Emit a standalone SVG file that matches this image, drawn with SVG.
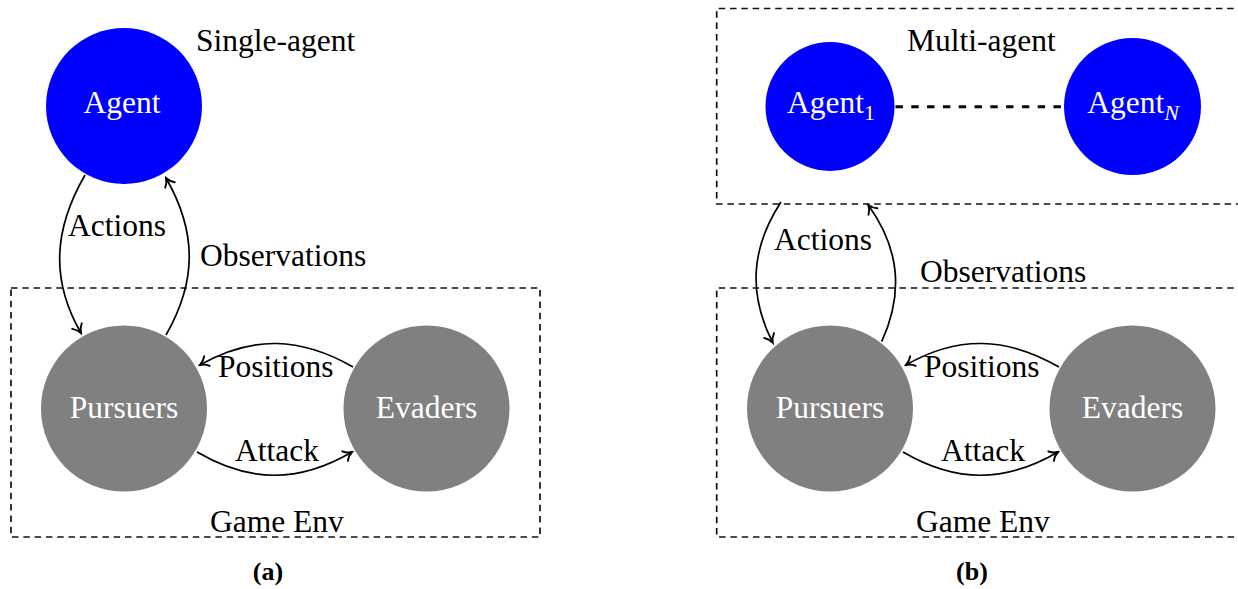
<svg xmlns="http://www.w3.org/2000/svg" width="1238" height="589" viewBox="0 0 1238 589">
<style>
text{font-family:"Liberation Serif","Times New Roman",serif;font-size:31.5px;fill:#000}
.w{fill:#fff;text-anchor:middle}
.cap{font-weight:bold;font-size:26px;text-anchor:middle}
.box{fill:none;stroke:#111;stroke-width:1.7;stroke-dasharray:6.5 4.8}
.edge{fill:none;stroke:#000;stroke-width:1.7;marker-end:url(#arr)}
.link{fill:none;stroke:#000;stroke-width:3;stroke-dasharray:7.4 8.4}
.agent{fill:#0000ff}
.env{fill:#808080}
</style>
<defs>
<marker id="arr" viewBox="-10 -7 12 14" markerWidth="12" markerHeight="14" refX="0" refY="0" orient="auto" markerUnits="userSpaceOnUse">
<path d="M-8,-5.5 C-5.5,-2.2 -2.2,-0.7 0,0 C-2.2,0.7 -5.5,2.2 -8,5.5" fill="none" stroke="#000" stroke-width="1.9" stroke-linecap="round"/>
</marker>
</defs>

<!-- Panel (a) -->
<g id="a-gameenv">
<rect class="box" x="11" y="288" width="529" height="249"/>
<text x="210" y="532">Game Env</text>
</g>
<g id="a-agent">
<circle class="agent" cx="124" cy="106" r="78"/>
<text class="w" x="122" y="113">Agent</text>
</g>
<g id="a-label-single"><text x="196" y="51">Single-agent</text></g>
<g id="a-pursuers">
<circle class="env" cx="124" cy="408.5" r="83"/>
<text class="w" x="124" y="418">Pursuers</text>
</g>
<g id="a-evaders">
<circle class="env" cx="426.5" cy="408.5" r="83"/>
<text class="w" x="426.5" y="418">Evaders</text>
</g>
<g id="a-connectors">
<path class="edge" d="M85,175 C54,228.7 50,279.3 81,333"/>
<path class="edge" d="M166,335 C197,281 197,232 166,178"/>
<path class="edge" d="M353,367 C301,337 252,335 200,365"/>
<path class="edge" d="M197,452 C250,483 299,483 352,452"/>
<text x="68" y="236">Actions</text>
<text x="200" y="266">Observations</text>
<text x="218" y="377">Positions</text>
<text x="235" y="461">Attack</text>
</g>
<g id="a-caption"><text class="cap" x="268" y="580">(a)</text></g>

<!-- Panel (b) -->
<g id="b-multiagent">
<path class="box" d="M1245,8.5 H716.7 V204 H1245"/>
<text x="907" y="51">Multi-agent</text>
</g>
<g id="b-gameenv">
<path class="box" d="M1245,288 H716.7 V537 H1245"/>
<text x="916" y="532">Game Env</text>
</g>
<g id="b-agent1">
<circle class="agent" cx="830" cy="106.5" r="64.5"/>
<text class="w" x="831" y="113">Agent<tspan font-size="22" dy="7">1</tspan></text>
</g>
<g id="b-agentN">
<circle class="agent" cx="1132.5" cy="106.5" r="68.5"/>
<text class="w" x="1133" y="113">Agent<tspan font-size="22" font-style="italic" dy="7">N</tspan></text>
</g>
<g id="b-pursuers">
<circle class="env" cx="830" cy="408.5" r="83"/>
<text class="w" x="830" y="418">Pursuers</text>
</g>
<g id="b-evaders">
<circle class="env" cx="1132.5" cy="408.5" r="83"/>
<text class="w" x="1132.5" y="418">Evaders</text>
</g>
<g id="b-connectors">
<path class="link" d="M895.5,106.7 H1064"/>
<path class="edge" d="M781,202 C750.9,248 747.9,293.6 772.7,342.7"/>
<path class="edge" d="M881.7,341.7 C903.9,292.7 899.6,248.7 868.3,205"/>
<path class="edge" d="M1059,367 C1007,337 958,335 906,365"/>
<path class="edge" d="M903,452 C956,483 1005,483 1058,452"/>
<text x="774" y="250">Actions</text>
<text x="920" y="282">Observations</text>
<text x="924" y="377">Positions</text>
<text x="941" y="461">Attack</text>
</g>
<g id="b-caption"><text class="cap" x="972" y="580">(b)</text></g>
</svg>
